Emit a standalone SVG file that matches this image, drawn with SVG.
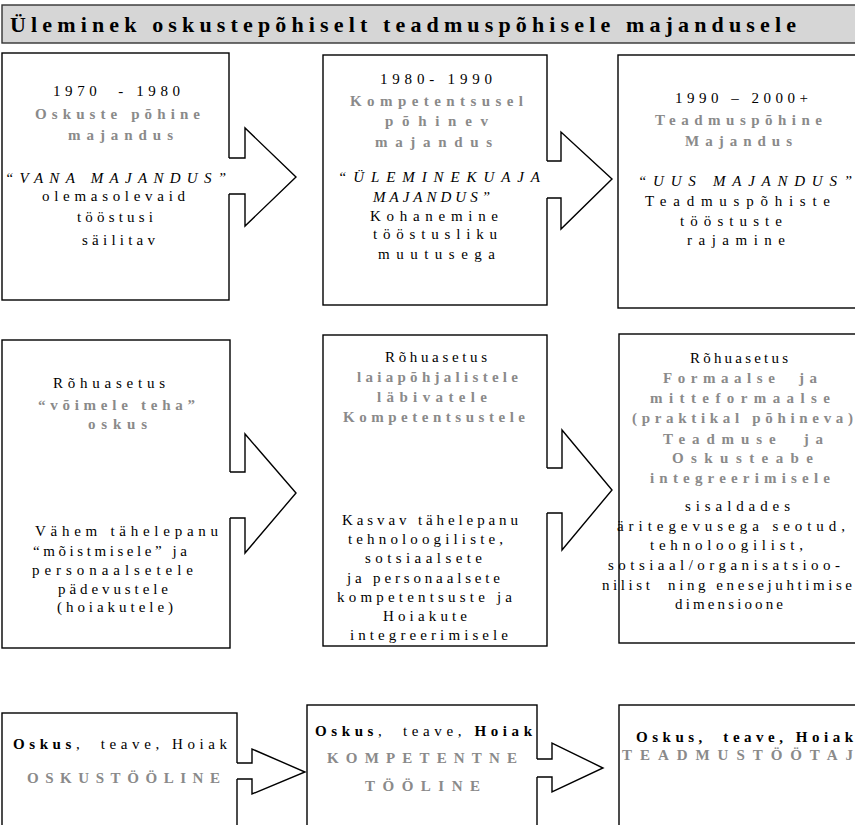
<svg xmlns="http://www.w3.org/2000/svg" width="855" height="825" viewBox="0 0 855 825" font-family="Liberation Serif, Times New Roman, serif">
<style>
.box{fill:#fff;stroke:#000;stroke-width:1.4}
.afill{fill:#fff;stroke:none}
.aline{fill:none;stroke:#000;stroke-width:1.4;stroke-linejoin:miter}
text{font-family:'Liberation Serif','Times New Roman',serif;font-size:15px;fill:#000;white-space:pre}
.g{fill:#8a8a8a;font-weight:bold}
.i{font-style:italic}
.b{font-weight:bold}
</style>
<rect width="855" height="825" fill="#fff"/>
<g id="title">
<rect x="2" y="5" width="860" height="38" fill="#d6d6d6" stroke="#333" stroke-width="1.4"/>
<text x="10" y="32" class="b" font-family="Liberation Serif" style="font-size:22px" textLength="786" lengthAdjust="spacing">Üleminek oskustepõhiselt teadmuspõhisele majandusele</text>
</g>

<g id="top1" font-family="Liberation Serif">
<rect class="box" x="2" y="53" width="227" height="247"/>
<text x="53" y="96" textLength="127" lengthAdjust="spacing">1970  - 1980</text>
<text x="35" y="119" class="g" textLength="165" lengthAdjust="spacing">Oskuste põhine</text>
<text x="68" y="140" class="g" textLength="105" lengthAdjust="spacing">majandus</text>
<text x="5" y="183" class="i" textLength="221" lengthAdjust="spacing">“VANA MAJANDUS”</text>
<text x="42" y="201" textLength="143" lengthAdjust="spacing">olemasolevaid</text>
<text x="77" y="222" textLength="76" lengthAdjust="spacing">tööstusi</text>
<text x="82" y="245" textLength="73" lengthAdjust="spacing">säilitav</text>
</g>
<g id="top2" font-family="Liberation Serif">
<rect class="box" x="323" y="55" width="224" height="250"/>
<text x="380" y="84" textLength="112" lengthAdjust="spacing">1980- 1990</text>
<text x="350" y="106" class="g" textLength="173" lengthAdjust="spacing">Kompetentsusel</text>
<text x="385" y="126" class="g" textLength="103" lengthAdjust="spacing">põhinev</text>
<text x="375" y="147" class="g" textLength="117" lengthAdjust="spacing">majandus</text>
<text x="338" y="182" class="i" textLength="202" lengthAdjust="spacing">“ÜLEMINEKUAJA</text>
<text x="373" y="202" class="i" textLength="117" lengthAdjust="spacing">MAJANDUS”</text>
<text x="370" y="221" textLength="128" lengthAdjust="spacing">Kohanemine</text>
<text x="373" y="239" textLength="124" lengthAdjust="spacing">tööstusliku</text>
<text x="378" y="259" textLength="117" lengthAdjust="spacing">muutusega</text>
</g>
<g id="top3" font-family="Liberation Serif">
<rect class="box" x="618" y="55" width="252" height="253"/>
<text x="675" y="103" textLength="133" lengthAdjust="spacing">1990 – 2000+</text>
<text x="655" y="125" class="g" textLength="167" lengthAdjust="spacing">Teadmuspõhine</text>
<text x="685" y="146" class="g" textLength="107" lengthAdjust="spacing">Majandus</text>
<text x="638" y="186" class="i" textLength="214" lengthAdjust="spacing">“UUS MAJANDUS”</text>
<text x="645" y="206" textLength="185" lengthAdjust="spacing">Teadmuspõhiste</text>
<text x="680" y="226" textLength="102" lengthAdjust="spacing">tööstuste</text>
<text x="687" y="245" textLength="98" lengthAdjust="spacing">rajamine</text>
</g>

<g id="mid1" font-family="Liberation Serif">
<rect class="box" x="2" y="340" width="228" height="308"/>
<text x="53" y="388" textLength="112" lengthAdjust="spacing">Rõhuasetus</text>
<text x="38" y="410" class="g" textLength="157" lengthAdjust="spacing">“võimele teha”</text>
<text x="88" y="429" class="g" textLength="59" lengthAdjust="spacing">oskus</text>
<text x="35" y="536" textLength="183" lengthAdjust="spacing">Vähem tähelepanu</text>
<text x="33" y="556" textLength="154" lengthAdjust="spacing">“mõistmisele” ja</text>
<text x="32" y="575" textLength="161" lengthAdjust="spacing">personaalsetele</text>
<text x="58" y="594" textLength="110" lengthAdjust="spacing">pädevustele</text>
<text x="57" y="612" textLength="116" lengthAdjust="spacing">(hoiakutele)</text>
</g>
<g id="mid2" font-family="Liberation Serif">
<rect class="box" x="323" y="335" width="224" height="311"/>
<text x="385" y="362" textLength="102" lengthAdjust="spacing">Rõhuasetus</text>
<text x="357" y="382" class="g" textLength="161" lengthAdjust="spacing">laiapõhjalistele</text>
<text x="377" y="402" class="g" textLength="110" lengthAdjust="spacing">läbivatele</text>
<text x="343" y="422" class="g" textLength="182" lengthAdjust="spacing">Kompetentsustele</text>
<text x="342" y="525" textLength="176" lengthAdjust="spacing">Kasvav tähelepanu</text>
<text x="348" y="544" textLength="155" lengthAdjust="spacing">tehnoloogiliste,</text>
<text x="365" y="563" textLength="117" lengthAdjust="spacing">sotsiaalsete</text>
<text x="347" y="583" textLength="153" lengthAdjust="spacing">ja personaalsete</text>
<text x="337" y="602" textLength="175" lengthAdjust="spacing">kompetentsuste ja</text>
<text x="383" y="621" textLength="84" lengthAdjust="spacing">Hoiakute</text>
<text x="350" y="640" textLength="158" lengthAdjust="spacing">integreerimisele</text>
</g>
<g id="mid3" font-family="Liberation Serif">
<rect class="box" x="619" y="334" width="251" height="309"/>
<text x="690" y="363" textLength="98" lengthAdjust="spacing">Rõhuasetus</text>
<text x="663" y="383" class="g" textLength="154" lengthAdjust="spacing">Formaalse  ja</text>
<text x="650" y="403" class="g" textLength="180" lengthAdjust="spacing">mitteformaalse</text>
<text x="632" y="423" class="g" textLength="221" lengthAdjust="spacing">(praktikal põhineva)</text>
<text x="663" y="444" class="g" textLength="160" lengthAdjust="spacing">Teadmuse  ja</text>
<text x="672" y="463" class="g" textLength="141" lengthAdjust="spacing">Oskusteabe</text>
<text x="650" y="483" class="g" textLength="180" lengthAdjust="spacing">integreerimisele</text>
<text x="685" y="511" textLength="105" lengthAdjust="spacing">sisaldades</text>
<text x="617" y="531" textLength="228" lengthAdjust="spacing">äritegevusega seotud,</text>
<text x="650" y="550" textLength="153" lengthAdjust="spacing">tehnoloogilist,</text>
<text x="608" y="570" textLength="232" lengthAdjust="spacing">sotsiaal/organisatsioo-</text>
<text x="602" y="590" textLength="250" lengthAdjust="spacing">nilist  ning enesejuhtimise</text>
<text x="675" y="609" textLength="108" lengthAdjust="spacing">dimensioone</text>
</g>

<g id="bot1" font-family="Liberation Serif">
<rect class="box" x="2" y="713" width="235" height="120"/>
<text x="13" y="749" textLength="214" lengthAdjust="spacing"><tspan class="b">Oskus</tspan>,  teave, Hoiak</text>
<text x="27" y="783" class="g" textLength="193" lengthAdjust="spacing">OSKUSTÖÖLINE</text>
</g>
<g id="bot2" font-family="Liberation Serif">
<rect class="box" x="307" y="705" width="230" height="128"/>
<text x="315" y="736" textLength="217" lengthAdjust="spacing"><tspan class="b">Oskus</tspan>,  teave, <tspan class="b">Hoiak</tspan></text>
<text x="327" y="763" class="g" textLength="190" lengthAdjust="spacing">KOMPETENTNE</text>
<text x="365" y="791" class="g" textLength="115" lengthAdjust="spacing">TÖÖLINE</text>
</g>
<g id="bot3" font-family="Liberation Serif">
<rect class="box" x="619" y="705" width="251" height="128"/>
<text x="636" y="742" class="b" textLength="217" lengthAdjust="spacing">Oskus,  teave, Hoiak</text>
<text x="622" y="760" class="g" textLength="231" lengthAdjust="spacing">TEADMUSTÖÖTAJ</text>
</g>

<g id="connectors">
<polygon class="afill" points="227,158 245,158 245,128 296,177 245,226 245,194 227,194"/>
<polyline class="aline" points="229,158 245,158 245,128 296,177 245,226 245,194 229,194"/>
<polygon class="afill" points="545,161 561,161 561,132 612,179 561,229 561,198 545,198"/>
<polyline class="aline" points="547,161 561,161 561,132 612,179 561,229 561,198 547,198"/>
<polygon class="afill" points="228,472 245,472 245,434 296,493 245,553 245,518 228,518"/>
<polyline class="aline" points="230,472 245,472 245,434 296,493 245,553 245,518 230,518"/>
<polygon class="afill" points="545,468 562,468 562,430 612,490 562,550 562,513 545,513"/>
<polyline class="aline" points="547,468 562,468 562,430 612,490 562,550 562,513 547,513"/>
<polygon class="afill" points="235,763 252,763 252,749 305,772 252,794 252,779 235,779"/>
<polyline class="aline" points="237,763 252,763 252,749 305,772 252,794 252,779 237,779"/>
<polygon class="afill" points="535,759 552,759 552,743 603,768 552,792 552,777 535,777"/>
<polyline class="aline" points="537,759 552,759 552,743 603,768 552,792 552,777 537,777"/>
</g>
</svg>
